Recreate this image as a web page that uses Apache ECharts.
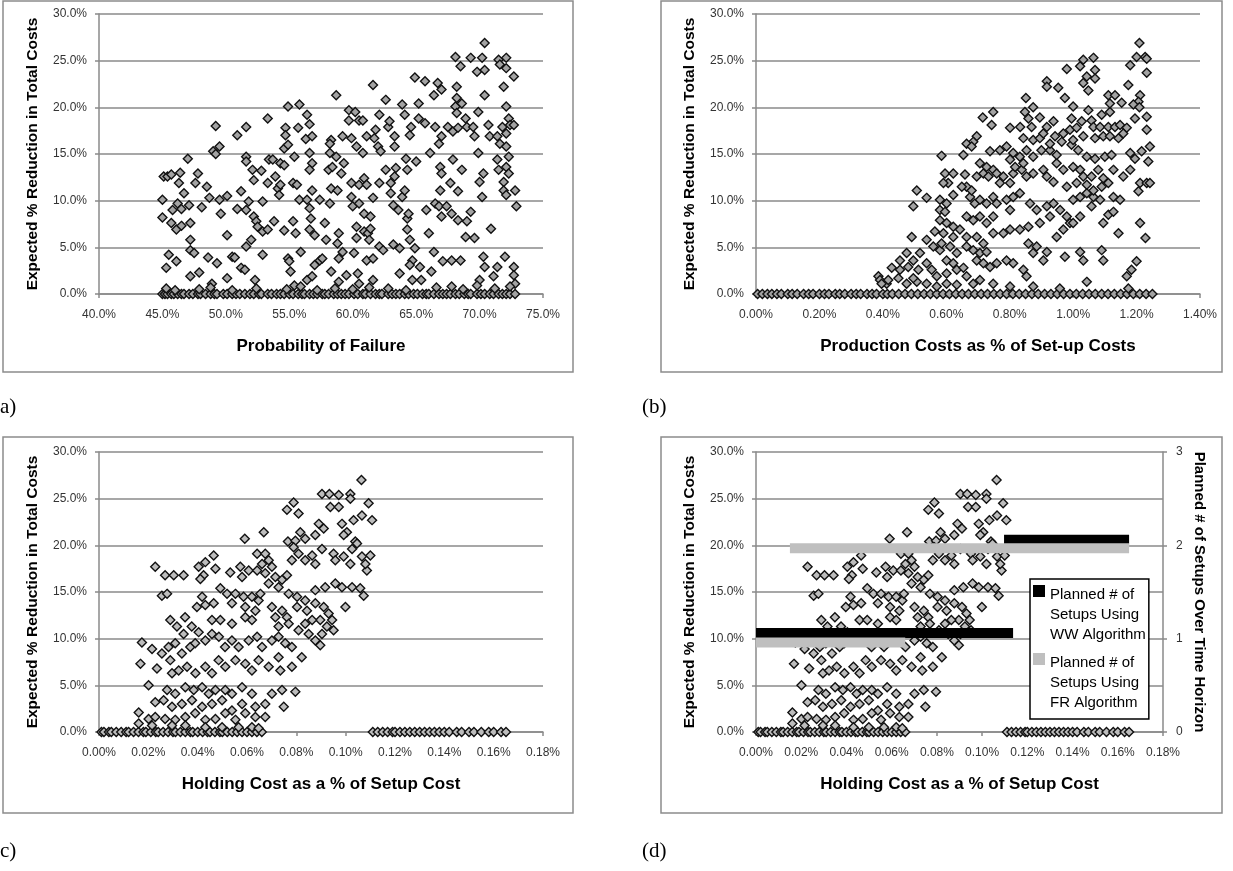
<!DOCTYPE html>
<html>
<head>
<meta charset="utf-8">
<script src="https://cdn.jsdelivr.net/npm/echarts/dist/echarts.min.js"></script>
<style>
  html, body { margin: 0; background: #fff; }
  #chart { width: 1233px; height: 871px; }
</style>
</head>
<body>
<div id="chart"></div>
<script>
// values are in percent: [x, expected % reduction]
const failurePoints = [
  [45.1,12.6],[45.4,12.6],[45.0,10.1],[45.0,8.2],[45.3,2.8],[45.5,4.2],[45.7,12.8],[45.8,9.0],[45.7,7.6],[46.1,6.9],
  [46.1,3.5],[46.2,9.7],[46.3,11.9],[46.4,13.0],[46.5,9.1],[46.5,7.3],[46.7,10.8],[47.0,14.5],[47.1,9.5],[47.2,7.6],
  [47.2,5.8],[47.2,4.7],[47.5,4.4],[47.2,1.9],[47.6,11.9],[47.8,12.9],[47.9,2.3],[48.1,9.3],[48.5,11.5],[48.6,3.9],
  [48.7,10.3],[49.0,15.3],[49.2,15.0],[49.5,15.8],[49.2,18.0],[49.3,3.3],[48.9,1.1],[49.5,10.1],[49.6,8.6],[50.1,10.5],
  [50.1,6.3],[50.1,1.7],[50.5,4.0],[50.7,3.9],[50.9,17.0],[50.9,9.1],[51.2,11.0],[51.2,2.8],[51.5,2.6],[51.6,17.9],
  [51.6,14.7],[51.6,14.2],[51.6,9.0],[51.6,5.1],[51.8,9.9],[52.0,5.8],[52.1,13.3],[52.2,12.2],[52.2,8.3],[52.4,7.8],
  [52.5,7.2],[52.3,1.5],[52.8,13.2],[52.9,9.9],[52.9,6.7],[52.9,4.2],[53.3,18.8],[53.3,11.9],[53.3,6.9],[53.4,14.4],
  [53.7,14.4],[53.8,7.8],[53.9,12.6],[54.1,11.3],[54.2,10.6],[54.3,11.7],[54.3,14.0],[54.6,13.8],[54.6,6.8],[54.9,20.1],
  [54.7,17.8],[54.7,17.0],[54.6,15.6],[54.9,16.0],[54.9,3.8],[55.0,3.5],[55.1,2.4],[55.3,11.9],[55.3,7.8],[55.4,14.7],
  [55.6,11.7],[55.5,6.5],[55.8,20.3],[55.7,17.8],[55.4,0.9],[55.8,10.1],[55.9,4.5],[56.4,19.2],[56.6,18.2],[56.3,16.6],
  [56.8,16.9],[56.6,15.1],[56.8,14.0],[56.6,13.3],[56.8,11.1],[56.4,10.1],[56.6,9.2],[56.7,8.1],[56.6,6.9],[57.0,6.3],
  [56.4,1.5],[56.8,1.9],[57.0,3.1],[57.4,10.1],[57.4,3.6],[57.6,3.8],[57.8,7.6],[57.9,5.8],[58.2,9.7],[58.3,16.5],
  [58.2,16.1],[58.2,15.1],[58.1,13.3],[58.3,11.3],[58.4,13.6],[58.3,2.4],[58.7,21.3],[58.7,14.7],[58.8,11.1],[58.8,5.4],
  [58.9,6.5],[58.9,3.8],[58.9,1.3],[59.1,12.9],[59.2,16.9],[59.2,4.5],[59.3,14.0],[59.5,2.0],[59.7,19.7],[59.7,18.6],
  [59.9,16.7],[59.9,11.9],[59.9,10.4],[60.0,9.4],[60.1,4.4],[60.2,19.5],[60.3,15.8],[60.3,7.2],[60.3,6.0],[60.4,2.2],
  [60.5,18.6],[60.5,11.7],[60.5,9.7],[60.5,1.1],[60.8,15.1],[60.8,18.6],[60.9,12.4],[60.9,8.6],[60.9,6.7],[61.1,11.7],
  [61.1,16.9],[61.1,3.6],[61.2,6.5],[61.3,5.8],[61.4,7.0],[61.4,8.3],[61.6,10.3],[61.6,3.8],[61.6,1.5],[61.6,22.4],
  [61.8,17.6],[61.7,16.7],[62.0,15.8],[62.1,19.2],[62.1,11.9],[62.2,15.3],[62.1,5.1],[62.4,4.7],[62.6,13.3],[62.6,20.8],
  [62.8,17.9],[62.9,18.5],[63.0,11.9],[63.0,10.8],[63.2,5.3],[63.3,16.9],[63.3,15.8],[63.3,12.6],[63.2,9.5],[63.4,13.5],
  [63.6,9.0],[63.7,4.9],[63.7,2.2],[63.9,20.3],[64.1,19.2],[63.9,10.4],[64.1,11.1],[64.2,14.5],[64.3,8.1],[64.5,17.0],
  [64.6,17.9],[64.3,6.9],[64.5,5.8],[64.7,3.6],[64.7,1.5],[64.9,23.2],[65.2,20.4],[65.2,18.8],[65.0,14.2],[64.3,13.3],
  [64.4,8.6],[64.9,4.9],[64.5,3.1],[65.3,2.9],[65.4,1.5],[65.7,22.8],[65.7,18.3],[65.8,9.0],[66.0,6.5],[66.1,15.1],
  [66.4,21.3],[66.5,17.9],[66.4,4.5],[66.2,2.4],[66.5,9.7],[66.7,22.6],[66.8,16.1],[66.9,13.6],[67.0,21.9],[67.0,16.9],
  [67.0,12.9],[66.9,11.1],[66.8,9.4],[67.0,8.3],[67.1,3.5],[67.4,9.4],[67.5,17.9],[67.7,11.9],[67.8,8.6],[67.8,3.6],
  [67.8,0.8],[67.9,17.4],[67.9,14.4],[68.1,25.4],[68.1,20.1],[68.2,22.2],[68.2,21.0],[68.2,19.4],[68.3,17.8],[68.3,11.0],
  [68.3,7.9],[68.5,24.4],[68.5,3.6],[68.6,20.4],[68.6,13.3],[68.9,18.8],[68.9,6.1],[69.0,17.9],[69.0,7.8],[69.3,25.3],
  [69.3,8.8],[69.5,17.9],[69.6,16.9],[69.6,6.0],[69.8,23.8],[69.9,19.5],[69.9,15.1],[70.0,12.0],[70.2,25.3],[70.4,26.9],
  [70.4,24.0],[70.3,12.9],[70.2,10.4],[70.4,21.3],[70.3,4.0],[70.4,2.9],[70.0,1.5],[70.7,18.1],[70.8,16.9],[70.9,7.0],
  [71.5,25.1],[71.6,24.6],[71.9,22.2],[71.8,17.9],[71.4,16.9],[71.6,16.1],[71.4,14.4],[71.5,13.3],[71.9,12.0],[71.9,11.1],
  [72.1,25.3],[72.1,24.2],[72.1,20.1],[72.3,18.8],[72.4,18.1],[72.1,17.2],[72.1,15.8],[72.3,14.7],[72.1,13.6],[72.3,12.9],
  [72.1,10.6],[72.0,4.0],[71.4,2.9],[71.1,1.9],[72.7,23.3],[72.8,11.1],[72.9,9.4],[72.7,2.9],[72.7,2.0],[72.8,1.1],
  [72.7,18.1],[45.3,0.6],[46.0,0.4],[47.9,0.5],[48.8,0.7],[50.5,0.4],[52.4,0.6],[54.8,0.5],[55.9,0.8],[57.2,0.4],
  [58.6,0.6],[60.0,0.5],[61.3,0.7],[62.8,0.6],[64.2,0.4],[66.6,0.7],[68.7,0.5],[69.8,0.9],[71.2,0.6],[72.4,0.8]
]
// runs with no reduction (sit on the 0.0% line)
const failureZeroX = [
  45.0,45.2,45.4,45.7,45.9,46.2,46.5,46.7,47.1,47.4,47.8,48.0,48.4,48.8,49.1,49.3,49.8,50.1,50.5,50.8,
  51.1,51.5,51.9,52.2,52.6,52.8,53.3,53.6,54.0,54.3,54.6,55.0,55.3,55.7,56.0,56.2,56.6,56.9,57.2,57.6,
  57.8,58.1,58.5,58.8,59.1,59.4,59.7,60.1,60.4,60.8,61.0,61.4,61.8,62.1,62.3,62.8,63.1,63.4,63.7,64.1,
  64.4,64.8,65.1,65.5,65.8,66.0,66.4,66.8,67.1,67.4,67.7,68.1,68.4,68.8,69.1,69.3,69.8,70.1,70.4,70.8,
  71.1,71.5,71.8,72.1,72.4,72.8
]

const productionPoints = [
  [0.386,1.9],[0.391,1.5],[0.412,1.1],[0.428,2.8],[0.396,1.1],[0.417,1.5],[0.449,1.7],[0.475,1.1],[0.507,1.3],[0.538,1.1],
  [0.57,0.8],[0.601,1.1],[0.633,1.0],[0.664,1.9],[0.685,1.1],[0.706,1.5],[0.748,1.1],[0.801,0.8],[0.874,0.8],[0.958,0.6],
  [0.454,3.6],[0.475,4.4],[0.496,3.6],[0.517,4.4],[0.538,3.3],[0.454,2.6],[0.48,2.9],[0.496,1.7],[0.512,2.6],
  [0.559,5.1],[0.58,4.7],[0.612,5.1],[0.633,4.4],[0.601,3.6],[0.622,3.3],[0.554,2.6],[0.57,1.9],[0.601,2.2],[0.633,2.6],[0.654,2.8],
  [0.664,5.1],[0.685,4.7],[0.706,4.4],[0.727,4.5],[0.696,3.6],[0.717,3.3],[0.738,2.9],[0.759,3.3],[0.79,3.6],[0.811,3.3],[0.843,2.6],[0.853,1.9],
  [0.859,5.4],[0.885,5.1],[0.917,4.5],[0.906,3.6],[0.874,4.4],[0.974,4.0],[1.022,4.5],[1.032,3.6],[1.09,4.7],[1.095,3.6],
  [1.043,1.3],[1.169,1.9],[1.184,2.6],[1.2,3.5],[1.174,0.6],
  [0.491,6.1],[0.538,5.8],[0.564,6.7],[0.585,5.4],[0.643,6.9],[0.664,6.1],[0.696,6.1],[0.717,5.4],[0.748,6.5],[0.78,6.5],
  [0.801,6.9],[0.832,6.9],[0.859,7.2],[0.895,7.6],[0.927,8.3],[0.948,6.1],[0.969,6.9],[0.99,7.6],[1.143,6.5],[1.211,7.6],[1.228,6.0],
  [0.58,7.9],[0.601,7.6],[0.622,7.2],[0.591,6.5],[0.622,6.1],[0.664,8.3],[0.685,7.9],[0.706,8.3],[0.727,7.6],[0.748,8.3],
  [1.0,7.6],[1.022,8.3],[1.058,9.4],[1.095,7.6],[1.111,8.5],[1.127,8.8],
  [0.507,11.1],[0.538,10.3],[0.496,9.4],[0.58,10.1],[0.601,9.7],[0.58,9.0],[0.596,8.8],[0.622,10.6],[0.675,10.4],[0.69,9.7],
  [0.706,10.1],[0.727,9.7],[0.748,10.4],[0.759,9.7],[0.79,10.1],[0.801,9.0],[0.811,10.4],[0.832,10.8],[0.864,9.7],[0.885,9.0],
  [0.917,9.4],[0.938,9.7],[0.959,9.0],[0.98,8.3],[1.0,10.1],[1.022,10.4],[1.043,10.8],[1.064,10.4],[1.085,10.1],[1.127,10.4],[1.148,10.1],
  [0.596,12.9],[0.622,12.9],[0.606,11.9],[0.659,12.8],[0.591,11.9],[0.664,11.5],[0.68,11.1],[0.649,11.5],
  [0.706,14.0],[0.727,13.6],[0.748,13.3],[0.717,12.9],[0.696,12.6],[0.733,12.6],[0.759,12.9],[0.78,12.6],[0.769,11.9],[0.801,11.9],
  [0.811,12.9],[0.838,13.3],[0.853,12.6],[0.874,12.9],[0.906,13.3],[0.917,12.6],[0.938,12.0],[0.948,14.0],[0.969,13.3],[1.0,13.6],
  [1.022,13.3],[1.032,12.6],[1.058,12.6],[1.079,13.3],[1.095,12.4],[1.111,11.9],[1.09,11.5],[1.127,13.3],[1.158,12.6],[1.18,13.3],
  [0.98,11.5],[1.011,11.9],[1.043,11.7],[1.064,11.1],[1.211,11.9],[1.232,11.9],[1.242,11.9],[1.206,11.0],
  [0.654,14.9],[0.585,14.8],[0.738,15.3],[0.769,15.4],[0.79,15.8],[0.811,15.1],[0.832,14.7],[0.853,15.4],[0.874,14.7],[0.9,15.4],
  [0.927,15.4],[0.948,14.9],[0.801,14.4],[0.817,13.6],[0.843,14.0],[0.964,16.3],[0.995,16.0],[1.016,15.4],[1.043,14.7],[1.069,14.5],
  [1.1,14.7],[1.121,14.9],[1.18,15.1],[1.195,14.5],[1.216,15.3],[1.237,14.2],[1.242,15.8],
  [0.696,16.9],[0.685,16.3],[0.664,16.1],[0.68,15.8],[0.843,16.7],[0.874,16.5],[0.895,16.7],[0.927,16.1],[0.943,16.9],[0.969,17.2],
  [0.99,17.6],[1.0,16.5],[1.032,16.9],[1.069,16.7],[1.095,16.9],[1.116,16.9],[1.143,16.7],
  [0.748,19.5],[0.715,18.9],[0.743,18.1],[0.833,17.9],[0.859,18.8],[0.895,18.9],[0.869,17.9],[0.801,17.8],[0.917,17.9],[0.938,18.5],
  [0.906,17.2],[0.995,18.8],[1.027,18.5],[1.011,17.8],[1.058,18.6],[1.064,17.9],[1.085,17.9],[1.111,17.9],[1.132,17.9],[1.148,18.1],
  [1.169,17.8],[1.158,17.2],[1.232,19.0],[1.232,17.6],[1.195,18.8],
  [0.848,19.5],[0.874,20.0],[1.09,19.2],[1.116,19.5],[1.0,20.1],[1.048,19.7],[1.111,21.3],[1.132,21.3],[1.116,20.4],[1.153,20.5],
  [1.211,21.3],[1.206,20.6],[1.19,20.3],[1.209,20.0],[0.974,21.0],[0.851,21.0],[1.048,21.8],[1.174,22.4],[0.917,22.8],[0.917,22.2],
  [0.953,22.1],[1.043,23.3],[1.069,23.1],[1.032,22.6],[0.98,24.1],[1.18,24.5],[1.232,23.7],[1.022,24.4],[1.069,24.0],[1.032,25.1],
  [1.064,25.3],[1.2,25.4],[1.227,25.4],[1.232,25.2],[1.209,26.9]
]
const productionZeroX = [
  0.005,0.02,0.036,0.05,0.066,0.08,0.1,0.114,0.13,0.15,0.166,0.18,0.2,0.216,0.23,0.25,0.264,0.28,0.3,0.316,
  0.33,0.35,0.366,0.38,0.4,0.414,0.43,0.45,0.47,0.49,0.51,0.53,0.55,0.57,0.59,0.61,0.63,0.65,0.67,0.69,
  0.71,0.73,0.75,0.77,0.79,0.81,0.83,0.85,0.87,0.89,0.91,0.93,0.95,0.97,0.99,1.01,1.03,1.05,1.07,1.09,
  1.11,1.13,1.15,1.17,1.19,1.21,1.23,1.25
]

const holdingPoints = [
  [0.1064,27.0],[0.0904,25.5],[0.0934,25.5],[0.0972,25.4],[0.1019,25.5],[0.1019,25.0],[0.0938,24.1],[0.0972,24.1],[0.0789,24.6],[0.0762,23.8],
  [0.0809,23.4],[0.1093,24.5],[0.1107,22.7],[0.1066,23.2],[0.1032,22.7],[0.0891,22.3],[0.0911,21.8],[0.0877,21.1],[0.0985,22.3],[0.1005,21.4],
  [0.0668,21.4],[0.0591,20.7],[0.0816,21.4],[0.0836,20.7],[0.0766,20.4],[0.0796,20.5],[0.0992,21.1],[0.1039,20.4],[0.1046,20.2],[0.1026,19.6],
  [0.0904,19.6],[0.0951,19.1],[0.0958,18.4],[0.0992,18.8],[0.1019,18.0],[0.1066,18.8],[0.11,18.9],[0.1086,17.3],[0.108,18.0],[0.0789,19.8],
  [0.0809,19.1],[0.0782,18.4],[0.0836,18.4],[0.0864,18.9],[0.0877,18.0],[0.0465,18.9],[0.0431,18.2],[0.0404,17.7],[0.0472,17.5],[0.0424,16.8],
  [0.0411,16.4],[0.0228,17.7],[0.0268,16.8],[0.0303,16.8],[0.0343,16.8],[0.0255,14.6],[0.0276,14.8],[0.0532,17.1],[0.0573,17.7],[0.0607,17.3],
  [0.058,16.6],[0.0641,19.1],[0.0674,19.1],[0.0688,18.4],[0.0661,18.0],[0.0641,17.3],[0.0674,17.0],[0.0701,17.7],[0.0715,16.6],[0.0742,16.3],
  [0.0688,15.9],[0.0728,15.5],[0.0762,16.8],[0.0492,15.4],[0.0519,14.8],[0.0553,14.8],[0.0586,14.5],[0.062,14.5],[0.0397,13.4],[0.0431,13.6],
  [0.0465,13.8],[0.0418,14.5],[0.0539,13.8],[0.0593,13.4],[0.0634,13.0],[0.0647,14.1],[0.0654,14.8],[0.0769,14.8],[0.0803,14.5],[0.0836,14.1],
  [0.0877,15.2],[0.0917,15.5],[0.0958,15.9],[0.0985,15.5],[0.1026,15.5],[0.1059,15.4],[0.1073,14.6],[0.0999,13.4],[0.0701,13.4],[0.0742,13.0],
  [0.0715,12.3],[0.0762,12.3],[0.0728,11.3],[0.0769,11.6],[0.0803,13.4],[0.0843,13.0],[0.0877,13.8],[0.0911,13.4],[0.0931,12.7],[0.0897,12.0],
  [0.0945,12.0],[0.0924,11.3],[0.0904,10.5],[0.0951,10.9],[0.0836,11.6],[0.0864,12.0],[0.0809,10.9],[0.085,10.5],[0.0877,9.8],[0.0897,9.3],
  [0.0289,12.0],[0.0316,11.3],[0.0349,12.3],[0.0343,10.5],[0.0376,11.3],[0.0404,10.7],[0.0458,12.0],[0.0492,12.0],[0.0539,11.6],[0.0593,12.3],
  [0.062,12.0],[0.0174,9.6],[0.0215,8.9],[0.0168,7.3],[0.0235,6.8],[0.0201,5.0],[0.0255,8.4],[0.0282,9.1],[0.0309,9.5],[0.0289,7.7],
  [0.0336,8.4],[0.037,9.1],[0.039,9.5],[0.0431,9.8],[0.0458,10.5],[0.0486,10.2],[0.0511,9.1],[0.0539,9.8],[0.0566,9.1],[0.0607,9.8],
  [0.0641,10.2],[0.0661,9.1],[0.0701,9.8],[0.0728,10.2],[0.0755,9.5],[0.0782,9.1],[0.0822,8.0],[0.0647,7.7],[0.0688,7.0],[0.0728,8.0],
  [0.0735,6.6],[0.0782,7.0],[0.0296,6.3],[0.0323,6.6],[0.0357,7.0],[0.0391,6.3],[0.0431,7.0],[0.0458,6.3],[0.0485,7.7],[0.0512,7.0],
  [0.0553,7.7],[0.0593,7.3],[0.062,6.6],[0.0276,4.5],[0.0309,4.1],[0.035,4.8],[0.0384,4.5],[0.0418,4.8],[0.0445,4.1],[0.0472,4.5],
  [0.0512,4.5],[0.0539,4.1],[0.058,4.8],[0.062,4.1],[0.0228,3.2],[0.0262,3.4],[0.0296,2.7],[0.0336,3.0],[0.0377,3.4],[0.0418,2.7],
  [0.0458,3.0],[0.0499,3.4],[0.0539,2.3],[0.058,3.0],[0.0634,2.7],[0.0674,3.0],[0.0701,4.1],[0.0742,4.5],[0.0749,2.7],[0.0796,4.3],
  [0.0161,2.1],[0.0201,1.4],[0.0228,1.6],[0.0268,1.4],[0.0309,1.3],[0.035,1.6],[0.039,2.0],[0.0431,1.3],[0.0472,1.4],[0.0512,2.0],
  [0.0553,1.3],[0.0593,2.0],[0.0634,1.6],[0.0674,1.6],[0.0161,0.9],[0.0215,0.7],[0.0296,0.7],[0.035,0.7],[0.0431,0.5],[0.0499,0.5],
  [0.0566,0.5],[0.062,0.5],[0.0647,0.4]
]
const holdingZeroX = [
  0.001,0.002,0.004,0.005,0.007,0.009,0.011,0.012,0.014,0.016,0.018,0.019,0.021,0.023,0.024,0.026,0.028,0.030,0.031,0.033,
  0.035,0.037,0.038,0.040,0.042,0.044,0.045,0.047,0.049,0.050,0.052,0.054,0.056,0.058,0.060,0.062,0.064,0.066,
  0.111,0.113,0.115,0.117,0.119,0.120,0.122,0.124,0.126,0.128,0.130,0.132,0.134,0.136,0.138,0.140,0.142,0.145,0.147,0.150,
  0.152,0.155,0.158,0.160,0.163,0.165
]

// planned # of setups (right axis of panel d): [xStart, xEnd, setups]
const wwSetups = [[0, 0.1137, 1.06], [0.1097, 0.165, 2.06]]
const frSetups = [[0, 0.066, 0.96], [0.015, 0.165, 1.97]]
const wwName = 'Planned # of\nSetups Using\nWW Algorithm'
const frName = 'Planned # of\nSetups Using\nFR Algorithm'

const yTicks = [0, 30, 5]          // min, max, step of the reduction axis
const failureTicks = [40, 75, 5]
const productionTicks = [0, 1.4, 0.2]
const holdingTicks = [0, 0.18, 0.02]
const setupTicks = [0, 3, 1]

const FONT = '"Liberation Sans", Arial, sans-serif'
const GRID_LINE = '#8a8a8a'

const chart = echarts.init(document.getElementById('chart'))

function xAxis (gridIndex, ticks, digits, name) {
  return {
    type: 'value', gridIndex, min: ticks[0], max: ticks[1], interval: ticks[2],
    axisLine: { lineStyle: { color: GRID_LINE, width: 1.5 } },
    axisTick: { show: true, length: 4, lineStyle: { color: GRID_LINE, width: 1.5 } },
    splitLine: { show: false },
    axisLabel: { fontFamily: FONT, fontSize: 12, color: '#333', margin: 15,
      formatter: v => v.toFixed(digits) + '%' },
    name, nameLocation: 'middle', nameGap: 44,
    nameTextStyle: { fontFamily: FONT, fontSize: 17, fontWeight: 'bold', color: '#000' }
  }
}

function yAxis (gridIndex) {
  return {
    type: 'value', gridIndex, min: yTicks[0], max: yTicks[1], interval: yTicks[2],
    axisLine: { show: true, lineStyle: { color: GRID_LINE, width: 1.5 } },
    axisTick: { show: true, length: 4, lineStyle: { color: GRID_LINE, width: 1.5 } },
    splitLine: { lineStyle: { color: GRID_LINE, width: 1.5 } },
    axisLabel: { fontFamily: FONT, fontSize: 12, color: '#333', margin: 12,
      formatter: v => v.toFixed(1) + '%' },
    name: 'Expected % Reduction in Total Costs', nameLocation: 'middle', nameGap: 58,
    nameTextStyle: { fontFamily: FONT, fontSize: 15.5, fontWeight: 'bold', color: '#000' }
  }
}

function scatter (xi, points, zeroX, fill) {
  // the zero row goes first so the positive runs sit on top of it
  const data = zeroX.map(x => [x, 0]).concat(points)
  return {
    type: 'scatter', xAxisIndex: xi, yAxisIndex: xi, data,
    symbol: 'diamond', symbolSize: 9, silent: true,
    itemStyle: { color: fill, borderColor: '#111', borderWidth: 1.4, opacity: 1 }
  }
}

function setupSeries (name, steps, color) {
  return steps.map(s => ({
    type: 'line', name, xAxisIndex: 3, yAxisIndex: 4, z: 5,
    data: [[s[0], s[2]], [s[1], s[2]]],
    showSymbol: false, symbol: 'none', silent: true, color,
    lineStyle: { color, width: 10, cap: 'butt' }
  }))
}

const frame = (x, y, w, h) => ({
  type: 'rect', shape: { x, y, width: w, height: h }, silent: true, z: -1,
  style: { fill: 'none', stroke: '#8c8c8c', lineWidth: 1.5 }
})
const tag = (x, y, text) => ({
  type: 'text', x, y, silent: true,
  style: { text, font: '21px "Liberation Serif", "DejaVu Serif", serif', fill: '#000', verticalAlign: 'middle' }
})

chart.setOption({
  animation: false,
  grid: [
    { left: 99, top: 14, width: 444, height: 280 },
    { left: 756, top: 14, width: 444, height: 280 },
    { left: 99, top: 452, width: 444, height: 280 },
    { left: 756, top: 452, width: 407, height: 280 }
  ],
  xAxis: [
    xAxis(0, failureTicks, 1, 'Probability of Failure'),
    xAxis(1, productionTicks, 2, 'Production Costs as % of Set-up Costs'),
    xAxis(2, holdingTicks, 2, 'Holding Cost as a % of Setup Cost'),
    xAxis(3, holdingTicks, 2, 'Holding Cost as a % of Setup Cost')
  ],
  yAxis: [
    yAxis(0), yAxis(1), yAxis(2), yAxis(3),
    {
      type: 'value', gridIndex: 3, position: 'right',
      min: setupTicks[0], max: setupTicks[1], interval: setupTicks[2],
      axisLine: { show: true, lineStyle: { color: GRID_LINE, width: 1.5 } },
      axisTick: { show: true, length: 4, lineStyle: { color: GRID_LINE, width: 1.5 } },
      splitLine: { show: false },
      axisLabel: { fontFamily: FONT, fontSize: 12, color: '#333', margin: 13 },
      name: 'Planned # of Setups Over Time Horizon', nameLocation: 'middle', nameGap: 29, nameRotate: -90,
      nameTextStyle: { fontFamily: FONT, fontSize: 15, fontWeight: 'bold', color: '#000' }
    }
  ],
  legend: {
    data: [wwName, frName],
    left: 1030, top: 579, orient: 'vertical',
    backgroundColor: '#fff', borderColor: '#000', borderWidth: 1.5,
    padding: [6, 3, 6, 3], itemGap: 8,
    itemWidth: 12, itemHeight: 60,
    icon: 'path://M0,0L12,0L12,12L0,12Z M0,60L0.01,60Z',
    textStyle: { fontFamily: FONT, fontSize: 15, lineHeight: 20, color: '#000' },
    selectedMode: false
  },
  graphic: [
    frame(3, 1, 570, 371), frame(661, 1, 561, 371),
    frame(3, 437, 570, 376), frame(661, 437, 561, 376),
    tag(0, 407, 'a)'), tag(642, 407, '(b)'), tag(0, 851, 'c)'), tag(642, 851, '(d)')
  ],
  series: [
    scatter(0, failurePoints, failureZeroX, '#a3a3a3'),
    scatter(1, productionPoints, productionZeroX, '#a3a3a3'),
    scatter(2, holdingPoints, holdingZeroX, '#bdbdbd'),
    scatter(3, holdingPoints, holdingZeroX, '#bdbdbd'),
    ...setupSeries(wwName, wwSetups, '#000'),
    ...setupSeries(frName, frSetups, '#bfbfbf')
  ]
})
</script>
</body>
</html>
